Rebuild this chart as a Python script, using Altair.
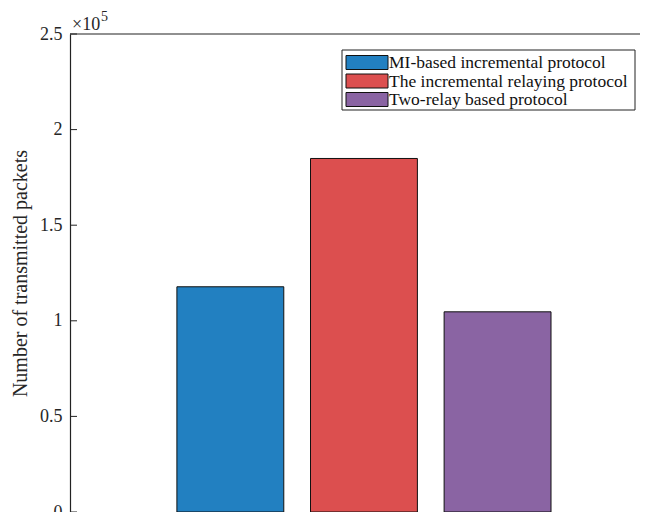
import altair as alt
import pandas as pd

categories = ["MI-based incremental protocol",
              "The incremental relaying protocol",
              "Two-relay based protocol"]
values = [117800, 184900, 104700]
colors = ["#2280c1", "#dc4f4f", "#8a64a3"]
y_ticks = [0, 50000, 100000, 150000, 200000, 250000]

W, H = 570, 478
FONT = "Liberation Serif"

df = pd.DataFrame({
    "cat": categories,
    "val": values,
    "pos": [i + 1 for i in range(len(categories))],
})
df["x0"] = df["pos"] - 0.4
df["x1"] = df["pos"] + 0.4
df["base"] = 0

xscale = alt.Scale(domain=[-0.2, 4.066], nice=False, zero=False)
yscale = alt.Scale(domain=[0, 250000], nice=False)

bars = alt.Chart(df).mark_rect(stroke="#111111", strokeWidth=1).encode(
    x=alt.X("x0:Q", scale=xscale,
            axis=alt.Axis(labels=False, ticks=False, title=None, grid=False,
                          domainColor="#222222", domainWidth=1.2)),
    x2="x1:Q",
    y=alt.Y("val:Q", scale=yscale,
            axis=alt.Axis(values=y_ticks, labelExpr="datum.value/100000",
                          ticks=False, grid=False, labelPadding=8,
                          labelFont=FONT, labelFontSize=18,
                          labelColor="#262626",
                          domainColor="#222222", domainWidth=1.2,
                          title="Number of transmitted packets",
                          titleFont=FONT, titleFontSize=20,
                          titleFontWeight="normal",
                          titleColor="#262626", titleX=-44, titleY=H / 2,
                          titleBaseline="alphabetic", titleAngle=-90)),
    y2="base:Q",
    fill=alt.Fill("cat:N", scale=alt.Scale(domain=categories, range=colors),
                  legend=None),
)

tick_df = pd.DataFrame({"v": y_ticks})
ticks = alt.Chart(tick_df).mark_rule(color="#222222", strokeWidth=1).encode(
    y=alt.Y("v:Q", scale=yscale),
    x=alt.value(0), x2=alt.value(7),
)

one = pd.DataFrame({"a": [0]})
top_line = alt.Chart(one).mark_rule(color="#222222", strokeWidth=1.2).encode(
    x=alt.value(0), x2=alt.value(W), y=alt.value(0))

exp1 = alt.Chart(one).mark_text(text="\u00d710", font=FONT, fontSize=18,
                                align="left", baseline="alphabetic",
                                color="#262626").encode(
    x=alt.value(2), y=alt.value(-4))
exp2 = alt.Chart(one).mark_text(text="5", font=FONT, fontSize=14,
                                align="left", baseline="alphabetic",
                                color="#262626").encode(
    x=alt.value(31), y=alt.value(-13))

layers = [bars, ticks, top_line, exp1, exp2]

# legend box
layers.append(alt.Chart(one).mark_rect(fill="white", stroke="#222222",
                                       strokeWidth=1).encode(
    x=alt.value(272), x2=alt.value(565), y=alt.value(16), y2=alt.value(76)))
row_tops = [21.5, 40, 58.5]
for cat, col, top in zip(categories, colors, row_tops):
    layers.append(alt.Chart(one).mark_rect(fill=col, stroke="#111111",
                                           strokeWidth=1).encode(
        x=alt.value(276), x2=alt.value(318), y=alt.value(top),
        y2=alt.value(top + 14)))
    layers.append(alt.Chart(one).mark_text(text=cat, font=FONT, fontSize=17.5,
                                           align="left", baseline="middle",
                                           color="#111111").encode(
        x=alt.value(319), y=alt.value(top + 7.5)))

chart = alt.layer(*layers).properties(
    width=W, height=H,
    autosize=alt.AutoSizeParams(type="none"),
    padding={"left": 62, "top": 26, "right": 0, "bottom": 0},
).configure(font=FONT).configure_view(stroke=None)

chart.save("out.html", embed_options={"renderer": "svg", "actions": False})
